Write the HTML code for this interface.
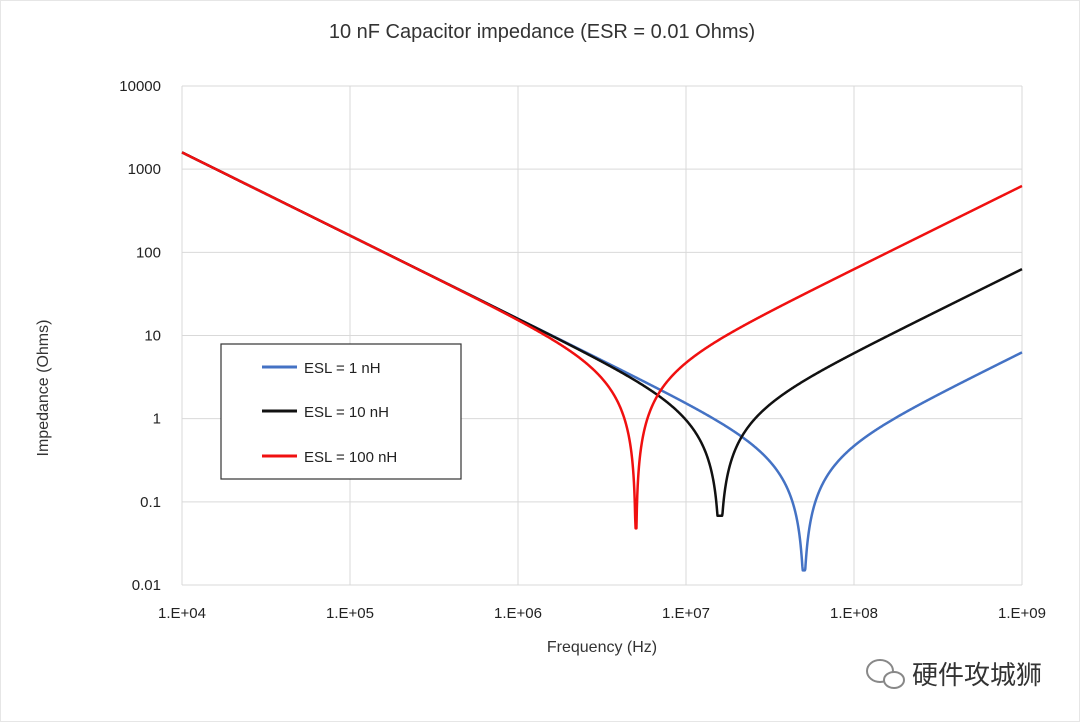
<!DOCTYPE html>
<html><head><meta charset="utf-8"><style>
body{margin:0;background:#fff;}
svg{display:block;font-family:"Liberation Sans","Noto Sans CJK SC",sans-serif;}
</style></head><body>
<svg id="s" width="1080" height="722" viewBox="0 0 1080 722">
<rect x="0.5" y="0.5" width="1079" height="721" fill="#fff" stroke="#e6e6e6"/>
<text x="542" y="38" font-size="20" text-anchor="middle" fill="#333">10 nF Capacitor impedance (ESR = 0.01 Ohms)</text>
<g id="grid" stroke="#d9d9d9" stroke-width="1"></g>
<g id="lab" font-size="15" fill="#222"></g>
<text x="602" y="652" font-size="16" text-anchor="middle" fill="#333">Frequency (Hz)</text>
<text transform="translate(48,388) rotate(-90)" font-size="16" text-anchor="middle" fill="#333">Impedance (Ohms)</text>
<g id="curves" fill="none" stroke-width="2.5" stroke-linejoin="round"></g>
<rect x="221" y="344" width="240" height="135" fill="#fff" stroke="#333" stroke-width="1.2"/>
<line x1="262" y1="367" x2="297" y2="367" stroke="#4472c4" stroke-width="3"/>
<text x="304" y="373" font-size="15" fill="#222">ESL = 1 nH</text>
<line x1="262" y1="411" x2="297" y2="411" stroke="#111" stroke-width="3"/>
<text x="304" y="417" font-size="15" fill="#222">ESL = 10 nH</text>
<line x1="262" y1="456" x2="297" y2="456" stroke="#f01010" stroke-width="3"/>
<text x="304" y="462" font-size="15" fill="#222">ESL = 100 nH</text>
<g transform="translate(880,673)">
<ellipse cx="0" cy="-2" rx="13" ry="11" fill="none" stroke="#888" stroke-width="2"/>
<ellipse cx="14" cy="7" rx="10" ry="8" fill="#fff" stroke="#888" stroke-width="2"/>
</g>
<text x="912" y="684" font-size="26" fill="#333">硬件攻城狮</text>
</svg>
<script>
var X0=182,X1=1022,Y0=86,Y1=585;
function fx(l){return X0+(l-4)*(X1-X0)/5;}
function fy(l){return Y0+(4-l)*(Y1-Y0)/6;}
var g=document.getElementById('grid'),lab=document.getElementById('lab'),ns='http://www.w3.org/2000/svg';
function el(p,t,a,txt){var e=document.createElementNS(ns,t);for(var k in a)e.setAttribute(k,a[k]);if(txt)e.textContent=txt;p.appendChild(e);}
for(var i=4;i<=9;i++){var x=fx(i);el(g,'line',{x1:x,y1:Y0,x2:x,y2:Y1});el(lab,'text',{x:x,y:618,'text-anchor':'middle'},'1.E+0'+i);}
var yl=['0.01','0.1','1','10','100','1000','10000'];
for(var j=-2;j<=4;j++){var y=fy(j);el(g,'line',{x1:X0,y1:y,x2:X1,y2:y});el(lab,'text',{x:161,y:y+5,'text-anchor':'end'},yl[j+2]);}
var C=1e-8,R=0.01;
var ser=[[1e-9,'#4472c4',0.015],[1e-8,'#111',0.068],[1e-7,'#f01010',0.048]];
var cg=document.getElementById('curves');
ser.forEach(function(s){
 var lr=Math.log10(1/(2*Math.PI*Math.sqrt(s[0]*C)));
 var ls=[];for(var k=0;k<=2000;k++)ls.push(4+5*k/2000);
 ls.push(lr);ls.sort(function(a,b){return a-b;});
 var d='';
 ls.forEach(function(l,k){var f=Math.pow(10,l),w=2*Math.PI*f;var z=Math.sqrt(R*R+Math.pow(w*s[0]-1/(w*C),2));
  if(Math.abs(l-lr)<1e-9)z=s[2];else z=Math.max(z,s[2]);
  d+=(k?'L':'M')+fx(l).toFixed(2)+' '+fy(Math.log10(z)).toFixed(2);});
 el(cg,'path',{d:d,stroke:s[1]});});
</script>
</body></html>
